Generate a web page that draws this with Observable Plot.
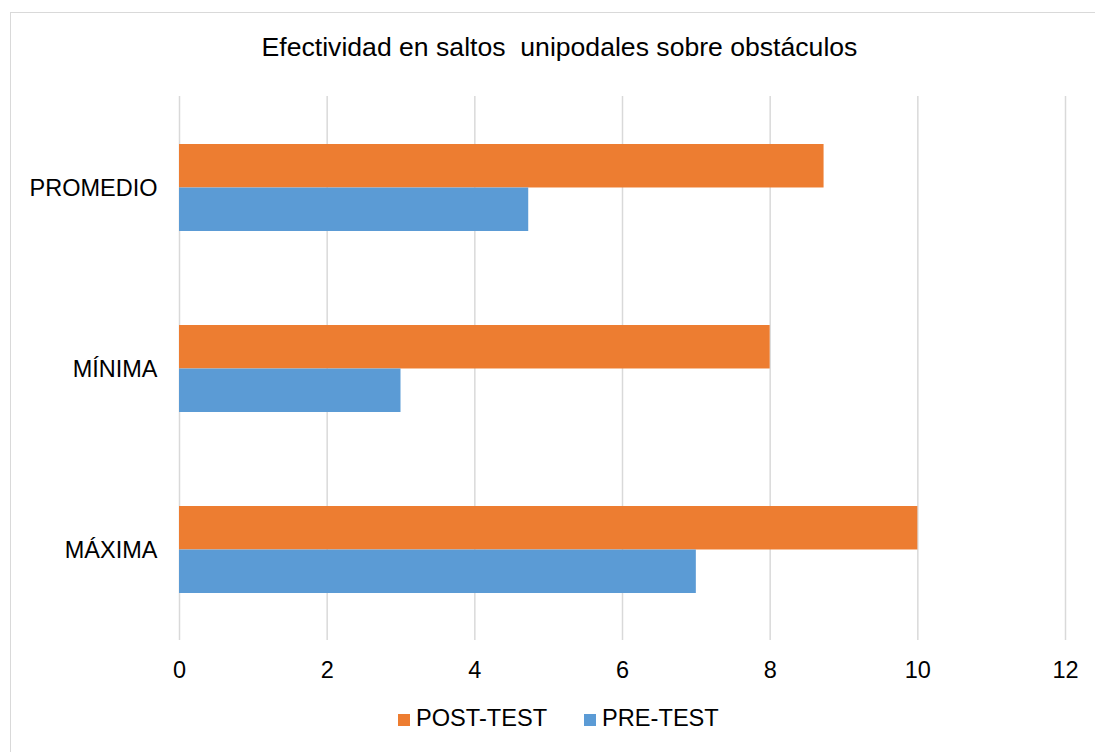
<!DOCTYPE html>
<html>
<head>
<meta charset="utf-8">
<script src="https://cdn.jsdelivr.net/npm/d3@7"></script>
<script src="https://cdn.jsdelivr.net/npm/@observablehq/plot@0.6"></script>
<style>
  html, body { margin: 0; padding: 0; background: #fff; overflow: hidden; }
  body { width: 1095px; height: 752px; position: relative; font-family: "Liberation Sans", Arial, sans-serif; color: #000; }
  #frame { position: absolute; left: 10px; top: 12px; width: 1099px; height: 760px; border: 1.5px solid #d9d9d9; box-sizing: border-box; }
  #title { position: absolute; left: 10px; width: 1099px; top: 34px; text-align: center; font-size: 26.6px; line-height: 26.6px; white-space: pre; }
  #chart { position: absolute; left: 0; top: 0; }
  #legend { position: absolute; left: 398px; top: 707px; font-size: 23.6px; line-height: 23px; display: flex; white-space: nowrap; }
  #legend .item { display: inline-flex; align-items: baseline; margin-right: 37px; }
  #legend .sw { display: inline-block; width: 12px; height: 12px; margin-right: 6px; }
</style>
</head>
<body>
<div id="frame"></div>
<div id="title">Efectividad en saltos  unipodales sobre obstáculos</div>
<div id="chart"></div>
<div id="legend"></div>
<script>
// Categories, top to bottom
const categories = ["PROMEDIO", "MÍNIMA", "MÁXIMA"];
// Series (drawn upper bar first within each category)
const series = ["POST-TEST", "PRE-TEST"];
const seriesColors = ["#ED7D31", "#5B9BD5"];
const postTest = [8.73, 8, 10];
const preTest = [4.73, 3, 7];
const xTicks = [0, 2, 4, 6, 8, 10, 12];

const rows = [];
categories.forEach((c, i) => {
  rows.push({categoria: c, serie: series[0], valor: postTest[i]});
  rows.push({categoria: c, serie: series[1], valor: preTest[i]});
});

const width = 1095, height = 700;
const marginTop = 96, marginBottom = 60, marginLeft = 179, marginRight = 30;
const paddingInner = 0.52, paddingOuter = 0.26;
// band width of each category group, split in half between the two series
const step = (height - marginTop - marginBottom) / (categories.length - paddingInner + 2 * paddingOuter);
const half = step * (1 - paddingInner) / 2;

const chart = Plot.plot({
  width, height, marginTop, marginBottom, marginLeft, marginRight,
  style: {fontFamily: "'Liberation Sans', Arial, sans-serif", fontSize: "23.5px", color: "#000", background: "transparent"},
  x: {domain: [0, 12], ticks: xTicks, tickSize: 0, tickPadding: 21, label: null},
  y: {domain: categories, paddingInner, paddingOuter, tickSize: 0, tickPadding: 22, label: null},
  color: {domain: series, range: seriesColors},
  marks: [
    Plot.gridX(xTicks, {stroke: "#d9d9d9", strokeOpacity: 1, strokeWidth: 1.5}),
    Plot.barX(rows.filter(d => d.serie === series[0]), {x: "valor", y: "categoria", fill: d => d.serie, insetBottom: half}),
    Plot.barX(rows.filter(d => d.serie === series[1]), {x: "valor", y: "categoria", fill: d => d.serie, insetTop: half})
  ]
});
document.getElementById("chart").appendChild(chart);

const legend = document.getElementById("legend");
series.forEach((s, i) => {
  const item = document.createElement("span");
  item.className = "item";
  const sw = document.createElement("span");
  sw.className = "sw";
  sw.style.background = seriesColors[i];
  item.appendChild(sw);
  item.appendChild(document.createTextNode(s));
  legend.appendChild(item);
});
</script>
</body>
</html>
